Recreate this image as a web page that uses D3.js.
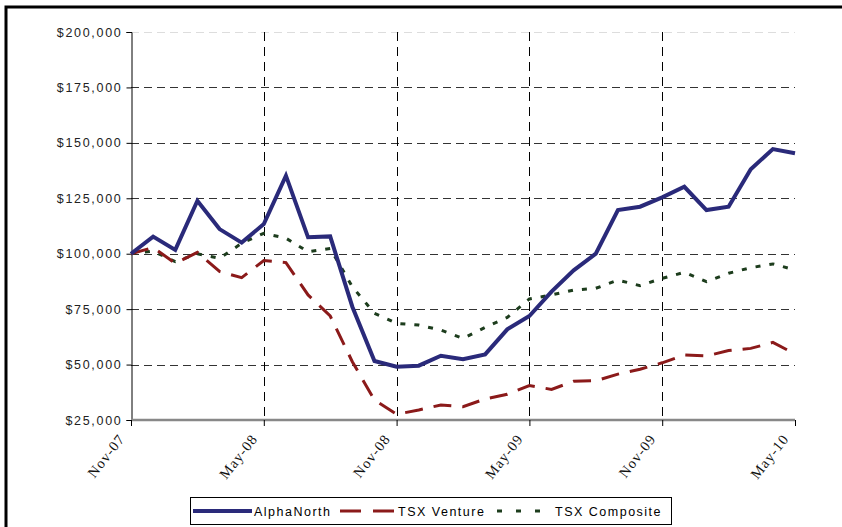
<!DOCTYPE html>
<html><head><meta charset="utf-8">
<script src="https://cdn.jsdelivr.net/npm/d3@7"></script>
<style>body{margin:0;background:#fff}svg{display:block}</style>
</head><body>
<svg id="c" width="842" height="527"></svg>
<script>
const months = ["Nov-07","Dec-07","Jan-08","Feb-08","Mar-08","Apr-08","May-08","Jun-08","Jul-08","Aug-08","Sep-08","Oct-08","Nov-08","Dec-08","Jan-09","Feb-09","Mar-09","Apr-09","May-09","Jun-09","Jul-09","Aug-09","Sep-09","Oct-09","Nov-09","Dec-09","Jan-10","Feb-10","Mar-10","Apr-10","May-10"];
const tickLabels = ["Nov-07","May-08","Nov-08","May-09","Nov-09","May-10"];
const yTicks = [25000,50000,75000,100000,125000,150000,175000,200000];
const alphaNorth = [100000,107700,101700,123900,111100,105000,113400,135200,107400,107800,76100,51600,49000,49500,54000,52400,54600,65900,71900,82900,92500,100000,119700,121200,125400,130200,119700,121200,138100,147200,145300];
const tsxVenture = [100000,102800,95700,100600,92000,89200,96900,96000,81400,71900,51300,34000,27600,29500,31800,31000,34500,36600,40500,38800,42500,42700,45700,47900,50800,54300,53900,56300,57300,60000,54800];
const tsxComposite = [100000,101200,96400,100000,97900,104700,109200,107000,100900,102400,85100,73100,68600,67800,65600,61800,66800,71300,79600,81400,83600,84400,88100,85600,88900,91600,87400,91200,93700,95400,92700];
const seriesNames = ["AlphaNorth","TSX Venture","TSX Composite"];

const svg = d3.select("#c");
const L = 131, R = 795, T = 32, B = 420;
const x = d3.scalePoint().domain(months).range([L, R]);
const y = d3.scaleLinear().domain([25000, 200000]).range([B, T]);

// border
svg.append("rect").attr("x",6).attr("y",7).attr("width",870).attr("height",560)
  .attr("fill","none").attr("stroke","#000").attr("stroke-width",3);

// horizontal grid
svg.append("g").selectAll("line").data(yTicks.filter(v=>v>25000)).join("line")
  .attr("x1",L).attr("x2",R).attr("y1",d=>Math.round(y(d))+0.5).attr("y2",d=>Math.round(y(d))+0.5)
  .attr("stroke",d=>d===200000?"#ddd":"#333").attr("stroke-width",1).attr("stroke-dasharray","8,5");
// vertical grid
svg.append("g").selectAll("line").data(tickLabels.slice(1,5)).join("line")
  .attr("x1",d=>Math.round(x(d))+0.5).attr("x2",d=>Math.round(x(d))+0.5).attr("y1",T).attr("y2",B)
  .attr("stroke","#000").attr("stroke-width",1).attr("stroke-dasharray","9,6");

// y axis
const yAxis = d3.axisLeft(y).tickValues(yTicks).tickSize(5).tickPadding(4)
  .tickFormat(d=>"$"+d3.format(",")(d));
const gy = svg.append("g").attr("transform",`translate(${L+0.5},0)`).call(yAxis);
gy.select(".domain").attr("stroke","#000");
gy.selectAll("text").attr("font-family","Liberation Sans, Arial, sans-serif").attr("font-size",12.5)
  .attr("letter-spacing","1.7px").attr("fill","#222");

// x axis
const xAxis = d3.axisBottom(x).tickValues(tickLabels).tickSize(6).tickSizeOuter(0);
const gx = svg.append("g").attr("transform",`translate(0,${B})`).call(xAxis);
gx.select(".domain").attr("stroke","#888").attr("stroke-width",2.5).attr("d",`M${L},0H${R}`);
gx.selectAll(".tick line").attr("stroke","#000");
gx.selectAll("text").attr("font-family","Liberation Serif, Times New Roman, serif")
  .attr("font-size",14.5).attr("letter-spacing","1px").attr("fill","#111").attr("text-anchor","end")
  .attr("x",0).attr("y",0).attr("dy",0).attr("transform","translate(-6,19) rotate(-52)");

// lines
const line = d3.line().x((d,i)=>x(months[i])).y(d=>y(d));
const styles = [
  {data: alphaNorth, color:"#2a2a7a", w:4, dash:null},
  {data: tsxVenture, color:"#8b1a1a", w:3, dash:"18,11"},
  {data: tsxComposite, color:"#1d3d1d", w:3, dash:"5,9"}
];
[styles[2], styles[1], styles[0]].forEach(s=>{
  svg.append("path").attr("d",line(s.data)).attr("fill","none").attr("stroke",s.color)
    .attr("stroke-width",s.w).attr("stroke-dasharray",s.dash).attr("stroke-linejoin","miter");
});

// legend
const lg = svg.append("g");
lg.append("rect").attr("x",190.5).attr("y",497.5).attr("width",481).attr("height",27).attr("fill","#fff").attr("stroke","#000");
const items = [{x0:193,x1:252,tx:254,dash:null},{x0:340,x1:394,tx:398,dash:"21,12"},{x0:497,x1:551,tx:555,dash:"5,14"}];
items.forEach((it,i)=>{
  lg.append("line").attr("x1",it.x0).attr("x2",it.x1).attr("y1",511).attr("y2",511)
    .attr("stroke",styles[i].color).attr("stroke-width",styles[i].w).attr("stroke-dasharray",it.dash);
  lg.append("text").attr("x",it.tx).attr("y",515.5).text(seriesNames[i])
    .attr("font-family","Liberation Sans, Arial, sans-serif").attr("font-size",12.5).attr("letter-spacing","1.5px").attr("fill","#000");
});
</script>
</body></html>
